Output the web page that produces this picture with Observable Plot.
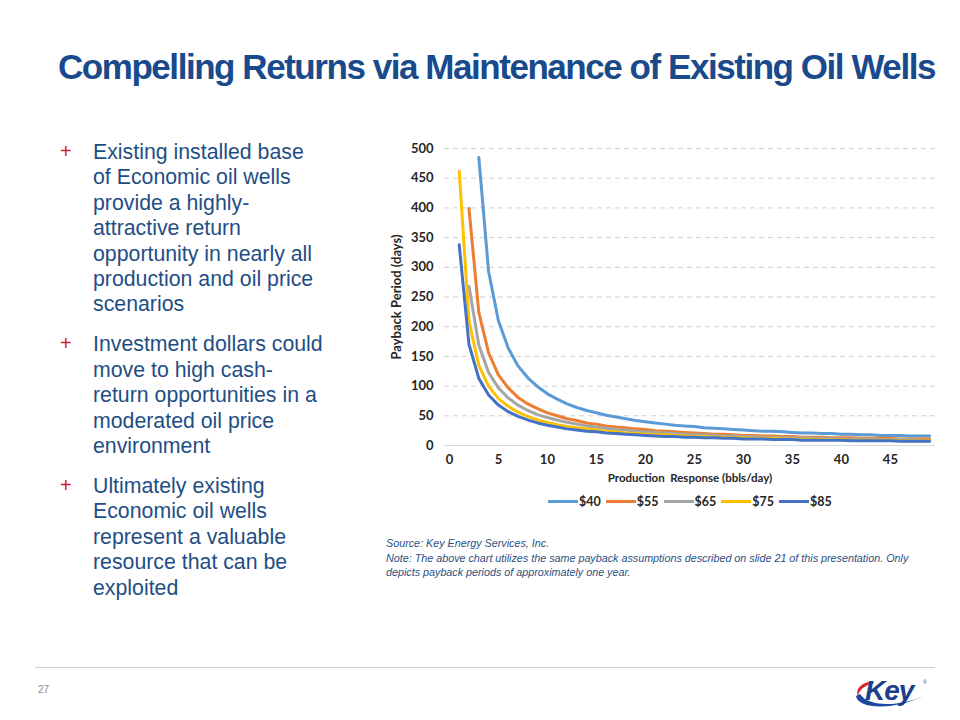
<!DOCTYPE html>
<html><head><meta charset="utf-8">
<script src="https://cdn.jsdelivr.net/npm/d3@7"></script>
<script src="https://cdn.jsdelivr.net/npm/@observablehq/plot@0.6"></script>
<style>
body{margin:0;width:960px;height:720px;position:relative;background:#fff;font-family:"Liberation Sans",Arial,sans-serif;overflow:hidden}
#title{position:absolute;left:58px;top:47px;font-weight:bold;font-size:35px;color:#184a8c;letter-spacing:-1.45px;white-space:nowrap}
#bullets{position:absolute;left:60px;top:140px;width:266px}
.b{position:relative;padding-left:33px;font-size:21.3px;line-height:25.4px;color:#1f4e85;margin-bottom:14.5px}
.b:before{content:"+";position:absolute;left:0;top:-1px;color:#d0202e;font-size:20px}
#chart{position:absolute;left:380px;top:130px}
#legend{position:absolute;left:548px;top:494px;display:flex;align-items:center;font-family:Lato,"Open Sans",sans-serif;font-weight:bold;font-size:12.5px;color:#262626;white-space:nowrap}
#legend .it{display:flex;align-items:center;margin-right:5px}
#legend .sw{width:30px;height:3px;margin-right:1px}
#source{position:absolute;left:386px;top:536px;font-style:italic;font-size:10.75px;line-height:14.5px;color:#2a4f82;width:545px}
#rule{position:absolute;left:35px;top:667px;width:900px;height:1px;background:#cfcfcf}
#page{position:absolute;left:38px;top:684px;font-size:10px;color:#8c8c8c}
#logo{position:absolute;left:850px;top:674px}
</style>
</head><body>
<div id="title">Compelling Returns via Maintenance of Existing Oil Wells</div>
<div id="bullets">
<div class="b">Existing installed base of Economic oil wells provide a highly-attractive return opportunity in nearly all production and oil price scenarios</div>
<div class="b">Investment dollars could move to high cash-return opportunities in a moderated oil price environment</div>
<div class="b">Ultimately existing Economic oil wells represent a valuable resource that can be exploited</div>
</div>
<div id="chart"></div>
<div id="legend"></div>
<div id="source">Source: Key Energy Services, Inc.<br>Note: The above chart utilizes the same payback assumptions described on slide 21 of this presentation. Only depicts payback periods of approximately one year.</div>
<div id="rule"></div>
<div id="page">27</div>
<svg id="logo" width="90" height="40" viewBox="0 0 90 40">
  <path d="M22 7 C11 9, 5 15, 8 22 C9 16, 15 11, 24 9 Z" fill="#d9262e"/>
  <path d="M6 22 C8 35, 42 37, 74 22 C50 33, 18 33, 10 20 Z" fill="#1b4a9c"/>
  <text x="15" y="26" font-family="'Liberation Sans',Arial,sans-serif" font-weight="bold" font-style="italic" font-size="28" fill="#1b3f8b" letter-spacing="-1">Key</text>
  <text x="73" y="10" font-size="5" fill="#1b3f8b">®</text>
</svg>
<script>
// Production response categories (bbls/day)
const production = [0,1,2,3,4,5,6,7,8,9,10,11,12,13,14,15,16,17,18,19,20,21,22,23,24,25,26,27,28,29,30,31,32,33,34,35,36,37,38,39,40,41,42,43,44,45,46,47,48,49];
const seriesNames = ["$40","$55","$65","$75","$85"];
const seriesColors = ["#5b9bd5","#ed7d31","#a5a5a5","#ffc000","#4472c4"];
// Payback period (days), aligned with production; null = not shown
const price40 = [null,null,null,485,293,210,164,134,114,99,87,78,70,64,59,55,51,48,45,42,40,38,36,34,33,32,30,29,28,27,26,25,24,24,23,22,21,21,20,20,19,19,18,18,17,17,17,16,16,16];
const price55 = [null,null,399,224,156,119,97,81,70,62,55,50,45,42,38,36,33,31,30,28,27,25,24,23,22,21,20,19,19,18,17,17,16,16,15,15,14,14,14,13,13,13,12,12,12,12,11,11,11,11];
const price65 = [null,null,268,169,123,97,80,68,59,52,47,43,39,36,33,31,29,27,26,24,23,22,21,20,19,18,18,17,16,16,15,15,14,14,13,13,13,12,12,12,11,11,11,11,10,10,10,10,9,9];
const price75 = [null,462,209,135,100,79,66,56,49,43,39,35,32,30,28,26,24,23,21,20,19,18,18,17,16,15,15,14,14,13,13,12,12,12,11,11,11,10,10,10,10,9,9,9,9,9,8,8,8,8];
const price85 = [null,338,170,113,85,68,57,49,43,38,34,31,28,26,24,23,21,20,19,18,17,16,15,15,14,14,13,13,12,12,11,11,11,10,10,10,9,9,9,9,9,8,8,8,8,8,7,7,7,7];
const xTicks = [0,5,10,15,20,25,30,35,40,45];
const yTicks = [0,50,100,150,200,250,300,350,400,450,500];

const allSeries = [price40, price55, price65, price75, price85];
const rows = [];
allSeries.forEach((vals, si) => {
  vals.forEach((v, i) => { if (v !== null) rows.push({x: production[i], y: v, s: seriesNames[si]}); });
});

const chart = Plot.plot({
  width: 560, height: 357,
  marginLeft: 64, marginTop: 18, marginRight: 5, marginBottom: 42,
  style: {fontFamily: "Lato, 'Open Sans', sans-serif", fontSize: "13px", fontWeight: "bold", color: "#262626", background: "transparent"},
  x: {domain: [-0.5, 49.6]},
  y: {domain: [0, 500]},
  color: {domain: seriesNames, range: seriesColors},
  marks: [
    Plot.ruleY(yTicks.filter(d => d > 0), {stroke: "#d0d0d0", strokeDasharray: "5,4", strokeWidth: 1}),
    Plot.ruleY([0], {stroke: "#d9d9d9", strokeWidth: 1}),
    Plot.axisX({ticks: xTicks, tickSize: 0, tickPadding: 9, label: null, fill: "#262626"}),
    Plot.axisX({ticks: [], tickSize: 0, label: "Production  Response (bbls/day)", labelAnchor: "center", labelOffset: 36, labelArrow: "none", fill: "#262626", fontSize: 11.5, style: "letter-spacing:-0.2px"}),
    Plot.axisY({ticks: yTicks, tickSize: 0, tickPadding: 11, label: "Payback Period (days)", labelAnchor: "center", labelOffset: 53, labelArrow: "none", fill: "#262626"}),
    Plot.line(rows, {x: "x", y: "y", z: "s", stroke: "s", strokeWidth: 3, strokeLinejoin: "round"})
  ]
});
document.getElementById("chart").appendChild(chart);

const legend = document.getElementById("legend");
seriesNames.forEach((n, i) => {
  const it = document.createElement("div");
  it.className = "it";
  it.innerHTML = `<div class="sw" style="background:${seriesColors[i]}"></div><span>${n}</span>`;
  legend.appendChild(it);
});
</script>
</body></html>
